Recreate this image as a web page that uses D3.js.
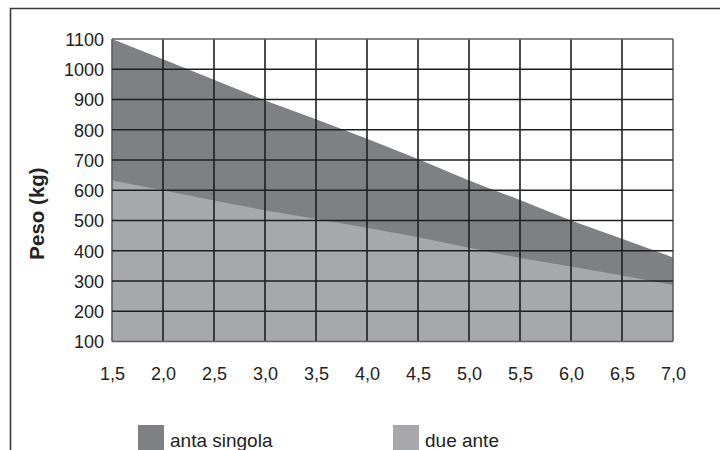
<!DOCTYPE html>
<html>
<head>
<meta charset="utf-8">
<script src="https://cdn.jsdelivr.net/npm/d3@7"></script>
<style>
  html, body { margin: 0; padding: 0; background: #fff; }
  svg { display: block; font-family: "Liberation Sans", Arial, sans-serif; }
</style>
</head>
<body>
<svg id="chart" width="720" height="450"></svg>
<script>
// ---- data ----
const widths = [1.5, 2.0, 2.5, 3.0, 3.5, 4.0, 4.5, 5.0, 5.5, 6.0, 6.5, 7.0];
const antaSingola = [1100, 1033, 965, 897, 835, 770, 703, 632, 568, 500, 440, 378];
const dueAnte = [632, 600, 566, 534, 505, 476, 445, 410, 376, 348, 318, 287];
const xTickValues = [1.5, 2.0, 2.5, 3.0, 3.5, 4.0, 4.5, 5.0, 5.5, 6.0, 6.5, 7.0];
const xTickLabels = ["1,5", "2,0", "2,5", "3,0", "3,5", "4,0", "4,5", "5,0", "5,5", "6,0", "6,5", "7,0"];
const yTickValues = [100, 200, 300, 400, 500, 600, 700, 800, 900, 1000, 1100];
const yTickLabels = ["100", "200", "300", "400", "500", "600", "700", "800", "900", "1000", "1100"];
const yTitle = "Peso (kg)";
const seriesNames = ["anta singola", "due ante"];
const seriesColors = ["#7f8084", "#a7a8ab"];

// ---- layout ----
const svg = d3.select("#chart");
const x = d3.scaleLinear().domain([1.5, 7.0]).range([112, 673]);
const y = d3.scaleLinear().domain([100, 1100]).range([341.5, 39]);

// outer frame (clipped by window on right/bottom)
svg.append("path")
  .attr("d", "M10.5,460 L10.5,8.5 L730,8.5")
  .attr("fill", "none").attr("stroke", "#3a3a3a").attr("stroke-width", 1.6);

const rows = widths.map((w, i) => ({ w, a: antaSingola[i], d: dueAnte[i] }));

// dark area: anta singola
svg.append("path")
  .datum(rows)
  .attr("fill", seriesColors[0])
  .attr("d", d3.area().x(d => x(d.w)).y0(y(100)).y1(d => y(d.a)));

// light area: due ante
svg.append("path")
  .datum(rows)
  .attr("fill", seriesColors[1])
  .attr("d", d3.area().x(d => x(d.w)).y0(y(100)).y1(d => y(d.d)));

// grid
const grid = svg.append("g");
xTickValues.forEach((v, i) => {
  const edge = i === 0 || i === xTickValues.length - 1;
  grid.append("line")
    .attr("x1", x(v)).attr("x2", x(v))
    .attr("y1", y(1100)).attr("y2", y(100))
    .attr("stroke", edge ? "#5e5e5e" : "#1f1f1f").attr("stroke-width", 1.6);
});
yTickValues.forEach((v, i) => {
  const edge = i === 0 || i === yTickValues.length - 1;
  grid.append("line")
    .attr("x1", x(1.5)).attr("x2", x(7.0))
    .attr("y1", y(v)).attr("y2", y(v))
    .attr("stroke", edge ? "#5e5e5e" : "#1f1f1f").attr("stroke-width", 1.6);
});

// axes (labels only)
const xAxis = d3.axisBottom(x)
  .tickValues(xTickValues)
  .tickFormat((d, i) => xTickLabels[i])
  .tickSize(0).tickPadding(26);
const gx = svg.append("g").attr("transform", `translate(0,${y(100)})`).call(xAxis);
gx.select(".domain").remove();
gx.selectAll("text").attr("font-size", 18).attr("fill", "#222").attr("font-family", "Liberation Sans, Arial, sans-serif");

const yAxis = d3.axisLeft(y)
  .tickValues(yTickValues)
  .tickFormat((d, i) => yTickLabels[i])
  .tickSize(0).tickPadding(8);
const gy = svg.append("g").attr("transform", `translate(${x(1.5)},0)`).call(yAxis);
gy.select(".domain").remove();
gy.selectAll("text").attr("font-size", 18).attr("fill", "#222").attr("dy", "0.35em").attr("font-family", "Liberation Sans, Arial, sans-serif");

// y title
svg.append("text")
  .attr("transform", "translate(43.5,213.5) rotate(-90)")
  .attr("text-anchor", "middle")
  .attr("font-size", 20.5).attr("font-weight", "bold").attr("fill", "#222")
  .text(yTitle);

// legend
const legendX = [138, 393];
seriesNames.forEach((name, i) => {
  svg.append("rect")
    .attr("x", legendX[i]).attr("y", 425)
    .attr("width", 26).attr("height", 26)
    .attr("fill", seriesColors[i]);
  svg.append("text")
    .attr("x", legendX[i] + 32).attr("y", 447)
    .attr("font-size", 19).attr("fill", "#222")
    .text(name);
});
</script>
</body>
</html>
